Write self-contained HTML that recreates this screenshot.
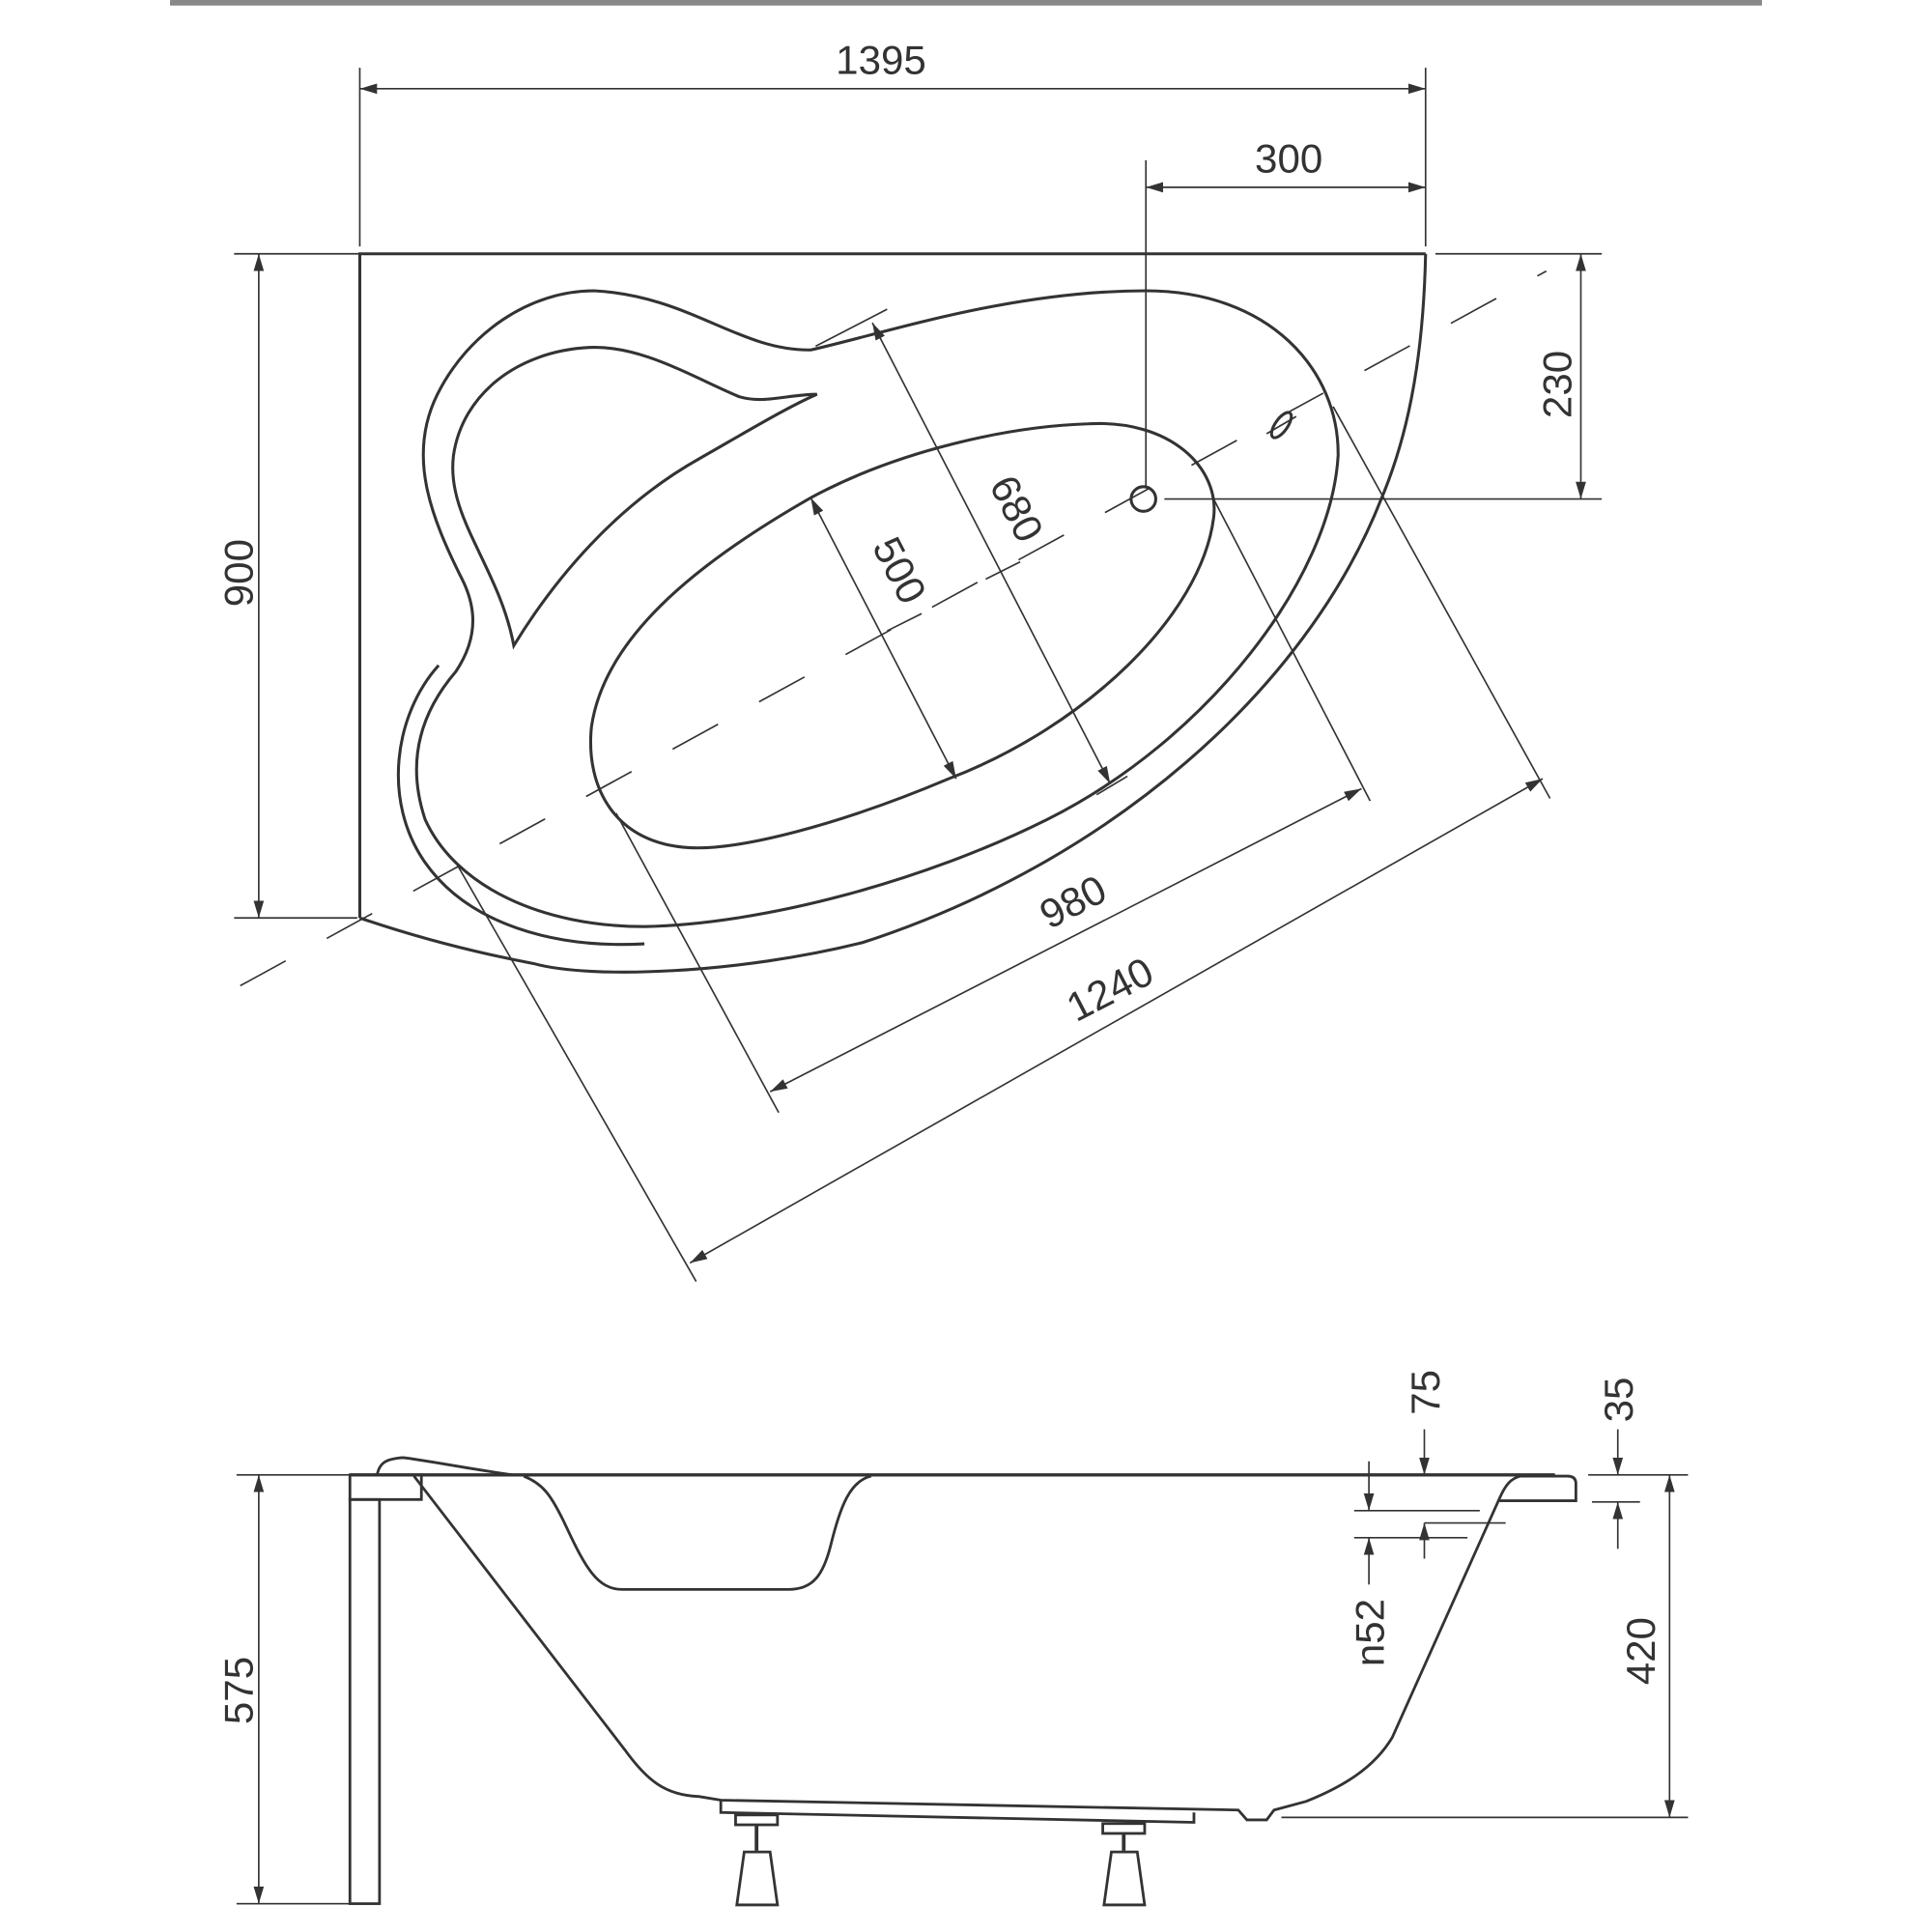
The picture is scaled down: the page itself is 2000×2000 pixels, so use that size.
<!DOCTYPE html>
<html><head><meta charset="utf-8"><style>
html,body{margin:0;padding:0;background:#fff;}
svg{display:block;}
text{font-family:"Liberation Sans",Arial,sans-serif;fill:#333;font-size:33px;}
</style></head><body>
<svg width="2000" height="2000" viewBox="0 0 1568 1568" xmlns="http://www.w3.org/2000/svg">
<defs>
<marker id="a" viewBox="0 0 10 10" refX="10" refY="5" markerWidth="14" markerHeight="14" markerUnits="userSpaceOnUse" orient="auto-start-reverse"><path d="M0,2 L10,5 L0,8 Z" fill="#333"/></marker>
</defs>
<rect x="0" y="0" width="1568" height="1568" fill="#fff"/>
<line x1="138" y1="2" x2="1430" y2="2" stroke="#888" stroke-width="5"/>

<g stroke="#333" fill="none" stroke-width="1.3">
<line x1="292" y1="55" x2="292" y2="200"/>
<line x1="1157" y1="55" x2="1157" y2="200"/>
<line x1="292" y1="72" x2="1157" y2="72" marker-start="url(#a)" marker-end="url(#a)"/>
<line x1="930" y1="130" x2="930" y2="395"/>
<line x1="930" y1="152" x2="1157" y2="152" marker-start="url(#a)" marker-end="url(#a)"/>
<line x1="190" y1="206" x2="292" y2="206"/>
<line x1="190" y1="745" x2="290" y2="745"/>
<line x1="210" y1="206" x2="210" y2="745" marker-start="url(#a)" marker-end="url(#a)"/>
<line x1="1165" y1="206" x2="1300" y2="206"/>
<line x1="945" y1="405" x2="1300" y2="405"/>
<line x1="1283" y1="206" x2="1283" y2="405" marker-start="url(#a)" marker-end="url(#a)"/>
<line x1="662" y1="281" x2="720" y2="251"/>
<line x1="708" y1="262" x2="901" y2="636" marker-start="url(#a)" marker-end="url(#a)"/>
<line x1="890" y1="645" x2="915" y2="630"/>
<line x1="658" y1="404" x2="776" y2="632" marker-start="url(#a)" marker-end="url(#a)"/>
<line x1="720" y1="512" x2="748" y2="498"/>
<line x1="800" y1="470" x2="828" y2="456"/>
<line x1="985" y1="405" x2="1112" y2="650"/>
<line x1="500" y1="660" x2="632" y2="903"/>
<line x1="625" y1="886" x2="1105" y2="640" marker-start="url(#a)" marker-end="url(#a)"/>
<line x1="1082" y1="330" x2="1258" y2="648"/>
<line x1="370" y1="700" x2="565" y2="1040"/>
<line x1="560" y1="1025" x2="1252" y2="632" marker-start="url(#a)" marker-end="url(#a)"/>
<line x1="195" y1="800" x2="1255" y2="220" stroke-dasharray="42,38"/>
</g>

<g stroke="#333" fill="none" stroke-width="2.4">
<path d="M1157,206 L292,206 L292,745"/>
<path d="M1157,206 C1155,300 1140,360 1121,405 C1060,560 900,700 700,765 C600,790 480,795 433,782 C380,772 330,758 292,745"/>
<path d="M482,236 C560,240 600,285 658,284 C720,270 820,236 930,236 C1030,236 1087,300 1086,370 C1080,470 980,600 850,665 C750,715 620,750 523,752 C440,752 370,720 345,665 C330,620 340,580 370,545 C390,515 385,490 375,470 C350,420 330,370 355,320 C380,270 430,236 482,236 Z"/>
<path d="M356,540 C320,580 310,650 345,700 C380,750 450,770 523,766"/>
<path d="M663,320 C640,320 620,328 600,322 C560,305 520,280 478,282 C420,285 375,320 368,370 C362,420 405,460 417,524 C450,470 500,410 568,372 C610,348 640,330 663,320 Z"/>
<path d="M883,344 C950,340 990,380 985,420 C975,500 880,590 770,632 C680,670 600,690 560,688 C500,685 475,640 480,590 C490,520 560,460 658,404 C730,365 820,346 883,344 Z"/>
<circle cx="928" cy="405" r="10"/>
<ellipse cx="1040" cy="345" rx="5" ry="12" transform="rotate(35 1040 345)"/>
</g>
<line x1="1028" y1="352" x2="1052" y2="338" stroke="#333" stroke-width="1.3"/>

<text x="715" y="60" text-anchor="middle">1395</text>
<text x="1046" y="140" text-anchor="middle">300</text>
<text transform="translate(205,465) rotate(-90)" text-anchor="middle">900</text>
<text transform="translate(1275,312) rotate(-90)" text-anchor="middle">230</text>
<text transform="translate(815,418) rotate(62.7)" text-anchor="middle">680</text>
<text transform="translate(720,468) rotate(62.7)" text-anchor="middle">500</text>
<text transform="translate(876,742) rotate(-27.3)" text-anchor="middle">980</text>
<text transform="translate(906,813) rotate(-27.3)" text-anchor="middle">1240</text>

<g stroke="#333" fill="none" stroke-width="1.3">
<line x1="192" y1="1197" x2="285" y2="1197"/>
<line x1="192" y1="1545" x2="285" y2="1545"/>
<line x1="210" y1="1197" x2="210" y2="1545" marker-start="url(#a)" marker-end="url(#a)"/>
<line x1="1156" y1="1160" x2="1156" y2="1197" marker-end="url(#a)"/>
<line x1="1156" y1="1236" x2="1222" y2="1236"/>
<line x1="1156" y1="1265" x2="1156" y2="1236" marker-end="url(#a)"/>
<line x1="1099" y1="1226" x2="1201" y2="1226"/>
<line x1="1099" y1="1248" x2="1191" y2="1248"/>
<line x1="1111" y1="1186" x2="1111" y2="1226" marker-end="url(#a)"/>
<line x1="1111" y1="1286" x2="1111" y2="1248" marker-end="url(#a)"/>
<line x1="1289" y1="1197" x2="1370" y2="1197"/>
<line x1="1292" y1="1219" x2="1331" y2="1219"/>
<line x1="1313" y1="1160" x2="1313" y2="1197" marker-end="url(#a)"/>
<line x1="1313" y1="1257" x2="1313" y2="1219" marker-end="url(#a)"/>
<line x1="1040" y1="1475" x2="1370" y2="1475"/>
<line x1="1355" y1="1197" x2="1355" y2="1475" marker-start="url(#a)" marker-end="url(#a)"/>
</g>
<g stroke="#333" fill="none" stroke-width="2.2">
<rect x="284" y="1217" width="24" height="328"/>
<rect x="284" y="1197" width="58" height="20"/>
<line x1="284" y1="1197" x2="1262" y2="1197" stroke-width="2.6"/>
<path d="M1231,1198 L1272,1198 Q1279,1198 1279,1204 L1279,1218 L1217,1218"/>
<path d="M306,1197 C308,1188 312,1184 327,1183 C345,1185 380,1192 416,1197"/>
<path d="M425,1198 C440,1204 447,1212 460,1240 C475,1272 485,1290 505,1290 L640,1290 C660,1290 668,1278 674,1255 C682,1222 690,1202 707,1198"/>
<path d="M336,1198 L507,1420 C525,1445 540,1457 567,1458 L585,1461 L1005,1469 L1012,1477 L1028,1477 L1034,1469 L1060,1462 C1090,1450 1115,1435 1130,1410 L1217,1216 C1222,1205 1226,1200 1234,1198"/>
<path d="M585,1461 L585,1471 L969,1479 L969,1471"/>
<rect x="597" y="1473" width="34" height="8"/>
<line x1="614" y1="1481" x2="614" y2="1502" stroke-width="3"/>
<path d="M604,1503 L625,1503 L631,1546 L598,1546 Z"/>
<rect x="895" y="1480" width="34" height="8"/>
<line x1="912" y1="1488" x2="912" y2="1502" stroke-width="3"/>
<path d="M902,1503 L923,1503 L929,1546 L896,1546 Z"/>
</g>
<text transform="translate(205,1372) rotate(-90)" text-anchor="middle">575</text>
<text transform="translate(1168,1130) rotate(-90)" text-anchor="middle">75</text>
<text transform="translate(1325,1136) rotate(-90)" text-anchor="middle">35</text>
<text transform="translate(1123,1325) rotate(-90)" text-anchor="middle">n52</text>
<text transform="translate(1343,1340) rotate(-90)" text-anchor="middle">420</text>
</svg>
</body></html>
